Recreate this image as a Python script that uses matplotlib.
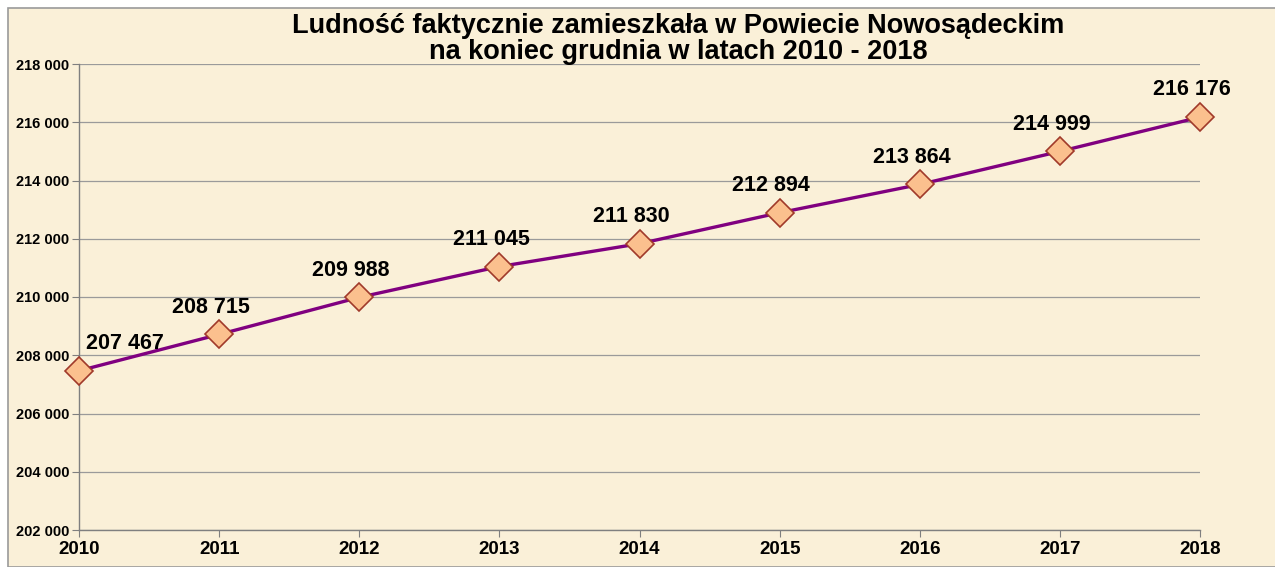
import matplotlib.pyplot as plt
from matplotlib.patches import Rectangle
from matplotlib.ticker import FuncFormatter, MultipleLocator

years = [2010, 2011, 2012, 2013, 2014, 2015, 2016, 2017, 2018]
population = [207467, 208715, 209988, 211045, 211830, 212894, 213864, 214999, 216176]
title = "Ludność faktycznie zamieszkała w Powiecie Nowosądeckim\nna koniec grudnia w latach 2010 - 2018"

bg = '#FAF0D8'
plt.rcParams['font.family'] = ['Liberation Sans', 'DejaVu Sans']

fig = plt.figure(figsize=(12.75, 5.67), dpi=100)
fig.patch.set_facecolor('white')
# chart area frame (page crop leaves a white strip on top and left)
fig.patches.append(Rectangle((8 / 1275, 0), 1, 1 - 8 / 567, transform=fig.transFigure,
                             facecolor=bg, edgecolor='#9a9a9a', linewidth=1.2, zorder=-5))

ax = fig.add_axes([79 / 1275, 37 / 567, 1121 / 1275, 466 / 567])
ax.set_facecolor('none')

ax.plot(years, population, color='#800080', linewidth=2.4, marker='D', markersize=14,
        markerfacecolor='#FBC08E', markeredgecolor='#A03A2A', markeredgewidth=1.2,
        zorder=3, clip_on=False)

for i, (x, y) in enumerate(zip(years, population)):
    label = f"{y:,}".replace(',', ' ')
    dx = 33 if i == 0 else -6
    ax.annotate(label, (x, y), xytext=(dx, 12), textcoords='offset points',
                ha='center', va='bottom', fontsize=15.5, fontweight='bold')

ax.set_xlim(2010, 2018)
ax.set_ylim(202000, 218000)
ax.set_xticks(years)
ax.yaxis.set_major_locator(MultipleLocator(2000))
ax.yaxis.set_major_formatter(FuncFormatter(lambda v, p: f"{int(v):,}".replace(',', ' ')))
ax.grid(axis='y', color='#9a9a9a', linewidth=0.9)
ax.set_axisbelow(True)

for s in ['top', 'right']:
    ax.spines[s].set_visible(False)
for s in ['left', 'bottom']:
    ax.spines[s].set_color('#7f7f7f')
    ax.spines[s].set_linewidth(1.0)

ax.tick_params(axis='y', labelsize=10.5, length=5, color='#7f7f7f', pad=2)
ax.tick_params(axis='x', labelsize=13.5, length=5, color='#7f7f7f', pad=3)
for t in ax.get_yticklabels() + ax.get_xticklabels():
    t.set_fontweight('bold')

fig.text(678 / 1275, 1 - 39 / 567, title, ha='center', va='center',
         fontsize=19.5, fontweight='bold', linespacing=0.98)

plt.savefig('out.png', dpi=100, facecolor=fig.get_facecolor())
